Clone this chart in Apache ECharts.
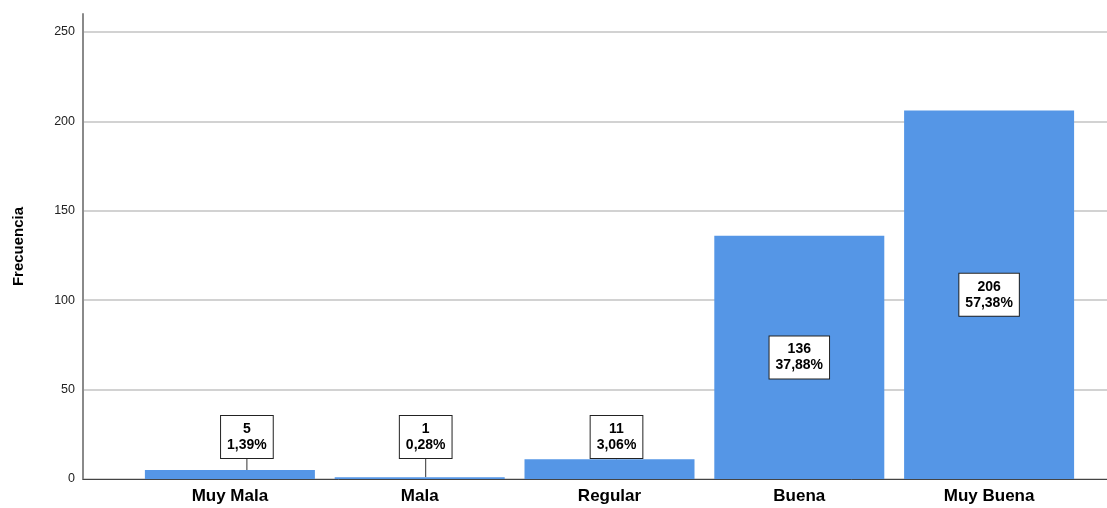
<!DOCTYPE html>
<html>
<head>
<meta charset="utf-8">
<script src="https://cdn.jsdelivr.net/npm/echarts@6/dist/echarts.min.js"></script>
<style>
  html, body { margin: 0; padding: 0; background: #fff; }
  #chart { width: 1107px; height: 508px; }
</style>
</head>
<body>
<div id="chart"></div>
<script>
// Datos
const categorias = ['Muy Mala', 'Mala', 'Regular', 'Buena', 'Muy Buena'];
const frecuencias = [5, 1, 11, 136, 206];
const porcentajes = ['1,39%', '0,28%', '3,06%', '37,88%', '57,38%'];
const ticksY = [0, 50, 100, 150, 200, 250];

// desplazamiento horizontal de las etiquetas pequeñas (px)
const desplazaEtiqueta = [17, 6, 7, 0, 0];

const chart = echarts.init(document.getElementById('chart'));

const option = {
    animation: false,
    grid: [
        { left: 83, right: 0, top: 14, bottom: 29 },
        { left: 135, right: 23, top: 14, bottom: 29 }
    ],
    xAxis: [
        {
            gridIndex: 0,
            type: 'value',
            min: 0, max: 1,
            axisLine: { show: true, onZero: false, lineStyle: { color: '#444', width: 1 } },
            axisLabel: { show: false },
            axisTick: { show: false },
            splitLine: { show: false }
        },
        {
            gridIndex: 1,
            type: 'category',
            data: categorias,
            axisLine: { show: false },
            axisTick: { show: false },
            axisLabel: {
                color: '#000',
                fontFamily: 'Liberation Sans',
                fontWeight: 'bold',
                fontSize: 17,
                margin: 9
            }
        }
    ],
    yAxis: [
        {
            gridIndex: 0,
            type: 'value',
            min: 0, max: 260, interval: 50,
            name: 'Frecuencia',
            nameLocation: 'middle',
            nameGap: 57,
            nameTextStyle: {
                color: '#000',
                fontFamily: 'Liberation Sans',
                fontWeight: 'bold',
                fontSize: 15
            },
            axisLine: { show: true, lineStyle: { color: '#8a8a8a', width: 2 } },
            axisTick: { show: false },
            axisLabel: {
                color: '#222',
                fontFamily: 'Liberation Sans',
                fontSize: 12.5,
                margin: 8,
                customValues: ticksY
            },
            splitLine: { show: true, showMaxLine: false, lineStyle: { color: '#d2d2d2', width: 2 } }
        },
        {
            gridIndex: 1,
            type: 'value',
            min: 0, max: 260,
            show: false
        }
    ],
    series: [
        {
            type: 'bar',
            xAxisIndex: 1,
            yAxisIndex: 1,
            barWidth: 170,
            itemStyle: { color: '#5596E6' },
            label: {
                show: true,
                position: 'inside',
                backgroundColor: '#fff',
                borderColor: '#222',
                borderWidth: 1,
                padding: [5, 6, 5, 6],
                formatter: function (p) {
                    return '{b|' + frecuencias[p.dataIndex] + '}\n{b|' + porcentajes[p.dataIndex] + '}';
                },
                rich: {
                    b: {
                        color: '#000',
                        fontFamily: 'Liberation Sans',
                        fontWeight: 'bold',
                        fontSize: 14,
                        lineHeight: 16,
                        align: 'center'
                    }
                }
            },
            labelLine: { show: true, lineStyle: { color: '#333', width: 1 } },
            labelLayout: function (p) {
                if (frecuencias[p.dataIndex] < 50) {
                    return {
                        x: p.rect.x + p.rect.width / 2 + desplazaEtiqueta[p.dataIndex],
                        y: 437,
                        align: 'center',
                        verticalAlign: 'middle'
                    };
                }
                return {};
            },
            data: frecuencias
        }
    ]
};

chart.setOption(option);
</script>
</body>
</html>
